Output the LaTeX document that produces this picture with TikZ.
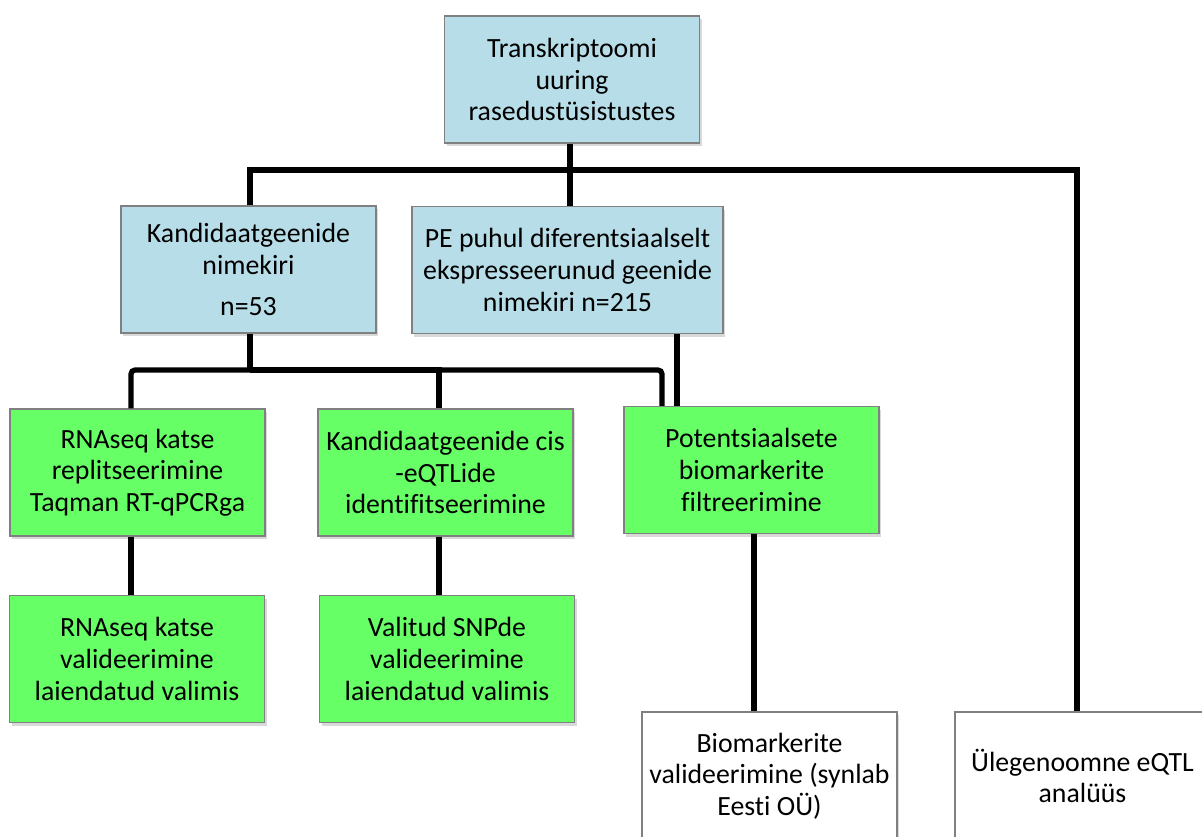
\documentclass[tikz,border=0pt]{standalone}
\definecolor{boxblue}{RGB}{183, 222, 232}
\definecolor{boxgreen}{RGB}{102, 255, 102}
\definecolor{boxline}{RGB}{128, 128, 128}
\usepackage{fontspec}
\setmainfont{Carlito}[Ligatures=NoCommon]
\usepackage{tikz}
\usetikzlibrary{shadows, positioning, calc}

\begin{document}
\begin{tikzpicture}[
  x=0.5pt, y=-0.5pt,
  font=\fontsize{13.9}{15.8}\selectfont,
  nbox/.style={draw=boxline, line width=0.6pt, align=center, inner sep=0pt, minimum width=127.5pt, minimum height=63.5pt,
    drop shadow={shadow xshift=1.2pt, shadow yshift=-1.6pt, opacity=0.25, fill=black!60}},
  bluebox/.style={nbox, fill=boxblue},
  greenbox/.style={nbox, fill=boxgreen},
  whitebox/.style={nbox, fill=white, minimum height=64pt},
  conn/.style={line width=2.6pt, black}
]
  \useasboundingbox (0,0) rectangle (1202,836);

  \node[bluebox] (study) at (572, 79.5) {Transkriptoomi\\uuring\\rasedustüsistustes};
  \node[bluebox] (cand) at (248.5, 269.5) {Kandidaatgeenide\\nimekiri\\[5pt]n=53};
  \node[bluebox, minimum width=155.5pt] (degs) at (567.5, 270) {PE puhul diferentsiaalselt\\ekspresseerunud geenide\\nimekiri n=215};

  \node[greenbox] (qpcr) at (137.5, 472.5) {RNAseq katse\\replitseerimine\\Taqman RT-qPCRga};
  \node[greenbox] (ciseqtl) at (445.5, 472.5) {Kandidaatgeenide cis\\-eQTLide\\identifitseerimine};
  \node[greenbox] (filter) at (751.5, 470) {Potentsiaalsete\\biomarkerite\\filtreerimine};

  \node[greenbox] (rnaval) at (137, 659) {RNAseq katse\\valideerimine\\laiendatud valimis};
  \node[greenbox] (snpval) at (447, 659) {Valitud SNPde\\valideerimine\\laiendatud valimis};

  \node[whitebox] (bioval) at (769.5, 776) {Biomarkerite\\valideerimine (synlab\\Eesti OÜ)};
  \node[whitebox] (gwas) at (1082.5, 776) {Ülegenoomne eQTL\\analüüs};

  \coordinate (bus1) at (570, 170);
  \coordinate (bus2) at (250, 370);

  \draw[conn] (study.south -| bus1) -- (degs.north -| bus1);
  \draw[conn] (cand.north -| bus2) |- (bus1) -| ([xshift=-2.75pt]gwas.north);
  \draw[conn] (cand.south -| bus2) -- (bus2);
  \draw[conn, rounded corners=2pt] (bus2) -| ([xshift=-3.25pt]qpcr.north);
  \draw[conn] (bus2) -| ([xshift=-3.25pt]ciseqtl.north);
  \draw[conn, rounded corners=2pt] (bus2) -| ([xshift=-44.75pt]filter.north);
  \draw[conn] ([xshift=54.75pt]degs.south) -- ([xshift=54.75pt]degs.south |- filter.north);

  \draw[conn] ([xshift=-3.25pt]qpcr.south) -- ([xshift=-3.25pt]qpcr.south |- rnaval.north);
  \draw[conn] ([xshift=-3.25pt]ciseqtl.south) -- ([xshift=-3.25pt]ciseqtl.south |- snpval.north);
  \draw[conn] ([xshift=1.25pt]filter.south) -- ([xshift=1.25pt]filter.south |- bioval.north);
\end{tikzpicture}
\end{document}
